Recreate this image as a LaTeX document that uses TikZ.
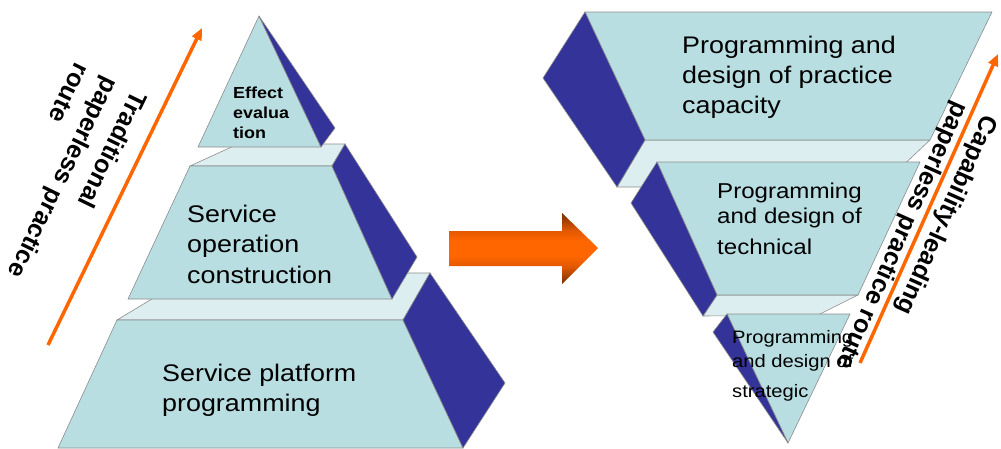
\documentclass[tikz,border=0pt]{standalone}
\usepackage{fontspec}
\setmainfont{Liberation Sans}
\newfontfamily\widefont[FakeStretch=1.12]{Liberation Sans}
\usetikzlibrary{arrows.meta}
\definecolor{facelight}{RGB}{184,222,226}
\definecolor{facedark}{RGB}{51,51,153}
\definecolor{ledgecol}{RGB}{221,238,240}
\definecolor{edgegray}{RGB}{140,140,140}
\definecolor{routeorange}{RGB}{255,102,0}
\definecolor{arrowdark}{RGB}{115,45,0}
\definecolor{arrowmid}{RGB}{225,88,0}
\pgfdeclareverticalshading{bigarrow}{100bp}{color(0bp)=(arrowdark); color(25bp)=(arrowdark); color(37bp)=(arrowmid); color(45bp)=(routeorange); color(55bp)=(routeorange); color(63bp)=(arrowmid); color(75bp)=(arrowdark); color(100bp)=(arrowdark)}

\begin{document}
\begin{tikzpicture}[x=1pt, y=-1pt,
  front/.style={fill=facelight, draw=edgegray, line width=0.6pt},
  side/.style={fill=facedark, draw=edgegray, line width=0.6pt},
  ledge/.style={fill=ledgecol, draw=edgegray, line width=0.6pt},
  lbl/.style={anchor=north west, inner sep=0pt, align=left},
  route/.style={draw=routeorange, line width=3.5pt, -{Triangle[length=12pt,width=10pt]}},
  routelbl/.style={inner sep=0pt, align=left, font=\bfseries\fontsize{25}{32}\selectfont}]
\useasboundingbox (0,0) rectangle (1001,448);

% left pyramid, bottom block first
\draw[ledge] (117,320) -- (195,273) -- (430,273) -- (403,320) -- cycle;
\draw[front] (117,320) -- (403,320) -- (463,448) -- (58,448) -- cycle;
\draw[side] (403,320) -- (430,273) -- (505,383) -- (463,448) -- cycle;
\draw[ledge] (190,166) -- (238,144) -- (345,144) -- (332,166) -- cycle;
\draw[front] (190,166) -- (332,166) -- (392,299) -- (128,299) -- cycle;
\draw[side] (332,166) -- (345,144) -- (417,257) -- (392,299) -- cycle;
\draw[front] (259,16) -- (321,147) -- (198,147) -- cycle;
\draw[side] (259,16) -- (335,128) -- (321,147) -- cycle;

\node[lbl, font=\widefont\bfseries\fontsize{16}{20}\selectfont] (effect) at (233,87) {Effect\\evalua\\tion};
\node[lbl, font=\widefont\fontsize{24}{30.5}\selectfont] (operation) at (187,204.5) {Service\\operation\\construction};
\node[lbl, font=\widefont\fontsize{24}{30}\selectfont] (platform) at (162,363.5) {Service platform\\programming};

% right pyramid, upside down
\draw[ledge] (645,140) -- (930,140) -- (880,187) -- (617,187) -- cycle;
\draw[front] (585,12) -- (992,12) -- (930,140) -- (645,140) -- cycle;
\draw[side] (585,12) -- (645,140) -- (617,187) -- (543,78) -- cycle;
\draw[ledge] (717,295) -- (858,295) -- (818,315) -- (703,316) -- cycle;
\draw[front] (657,162) -- (920,162) -- (858,295) -- (717,295) -- cycle;
\draw[side] (657,162) -- (717,295) -- (703,316) -- (631,203) -- cycle;
\draw[front] (727,314) -- (850,314) -- (788,443) -- cycle;
\draw[side] (727,314) -- (788,443) -- (713,332) -- cycle;

\node[lbl, font=\widefont\fontsize{24}{30}\selectfont] (capacity) at (682,35.5) {Programming and\\design of practice\\capacity};
\node[lbl, font=\widefont\fontsize{21.5}{25}\selectfont] (technical) at (717,183) {Programming\\and design of\\[6pt]technical};
\node[lbl, font=\widefont\fontsize{18}{24}\selectfont] (strategic) at (732,330) {Programming\\and design of\\[6pt]strategic};

% big arrow in the middle
\shade[shading=bigarrow] (449,231) -- (562,231) -- (562,213) -- (598,248) -- (562,284) -- (562,266) -- (449,266) -- cycle;

% routes
\coordinate (ltail) at (48,345);
\coordinate (lhead) at (202,28);
\coordinate (rtail) at (860,363);
\coordinate (rhead) at (998,54);
\draw[route] (ltail) -- (lhead);
\draw[route] (rtail) -- (rhead);
\node[routelbl, rotate=-116] (tradlbl) at (64,178) {Traditional\\paperless practice\\route};
\node[routelbl, rotate=-114] (caplbl) at (916,242) {Capability-leading\\paperless practice route};
\end{tikzpicture}
\end{document}
